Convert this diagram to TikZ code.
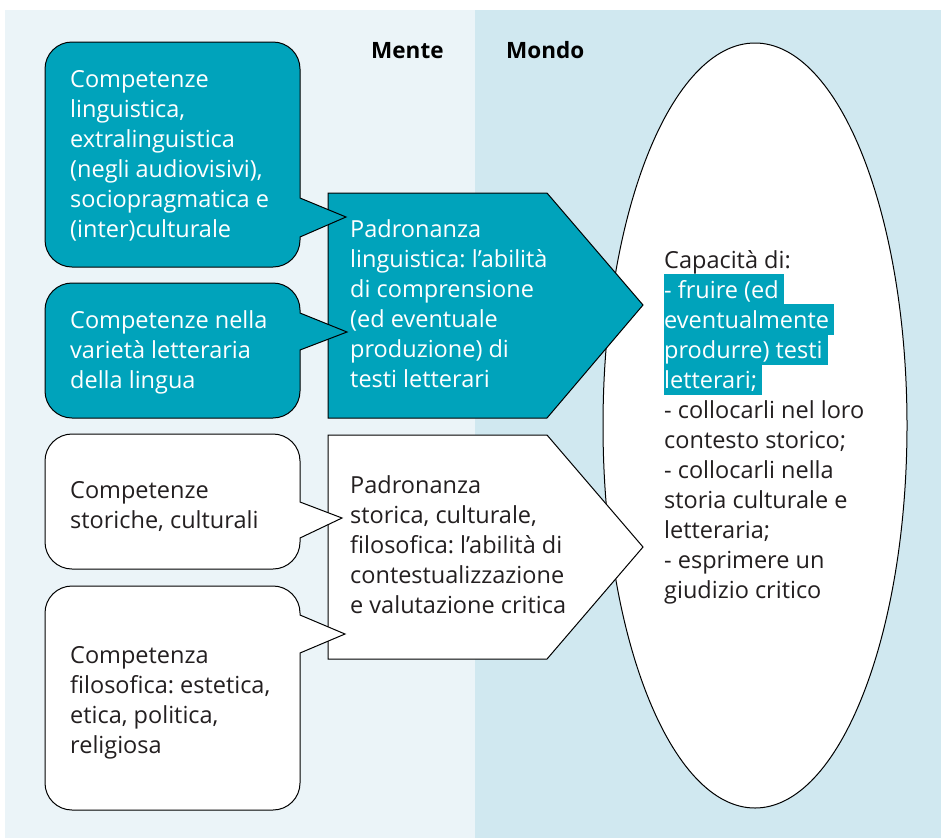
\documentclass[tikz,border=0pt]{standalone}
\usepackage{fontspec}
\setmainfont{Open Sans}[Ligatures=NoCommon]
\frenchspacing
\definecolor{tealc}{HTML}{00A3BB}
\definecolor{leftbg}{HTML}{EBF4F8}
\definecolor{rightbg}{HTML}{D0E8F0}
\definecolor{ink}{HTML}{231F20}
\newcommand{\speechpath}[6]{%
  \draw[#1] (300,#4) -- (300,#2+27) .. controls (300,#2+12.1) and (287.9,#2) .. (273,#2)
    -- (72,#2) .. controls (57.1,#2) and (45,#2+12.1) .. (45,#2+27)
    -- (45,#3-27) .. controls (45,#3-12.1) and (57.1,#3) .. (72,#3)
    -- (273,#3) .. controls (287.9,#3) and (300,#3-12.1) .. (300,#3-27)
    -- (300,#5) -- (#6) -- cycle;}
\newcommand{\hl}[1]{\colorbox{tealc}{\rule[-7pt]{0pt}{31pt}\textcolor{white}{#1}\hspace{5pt}}}
\begin{document}
\begin{tikzpicture}[x=1pt,y=-1pt,
  tealshape/.style={fill=tealc,draw=black,line width=1pt,line join=miter},
  whiteshape/.style={fill=white,draw=black,line width=1pt,line join=miter},
  txt/.style={anchor=base west,inner sep=0pt,font=\fontsize{23.5}{30}\selectfont\frenchspacing},
  head/.style={anchor=base west,inner sep=0pt,font=\fontsize{22.5}{24}\selectfont\bfseries}]
\useasboundingbox (0,0) rectangle (941,838);
\fill[white] (0,0) rectangle (941,838);
\fill[leftbg] (5,10) rectangle (475,838);
\fill[rightbg] (475,10) rectangle (941,838);
\node[head] (mente) at (371,58) {Mente};
\node[head] (mondo) at (506,58) {Mondo};
% ellipse
\draw[fill=white,draw=black,line width=1pt] (755,425.5) ellipse [x radius=152, y radius=382.5];
% pentagons
\draw[tealshape] (328,193) -- (547,193) -- (643,305) -- (547,418) -- (328,418) -- cycle;
\draw[whiteshape] (328,435) -- (547,435) -- (643,547) -- (547,659) -- (328,659) -- cycle;
% callouts
\speechpath{tealshape}{42}{267}{198}{237}{346,217}
\speechpath{tealshape}{283}{418}{313}{350}{347,332}
\speechpath{whiteshape}{434}{569}{502}{538}{342,518}
\speechpath{whiteshape}{586}{810}{615}{653}{345,634}
% texts
\node[txt,text=white] (c1) at (70,87) {\parbox[t]{240pt}{\raggedright Competenze\\linguistica,\\extralinguistica\\(negli audiovisivi),\\sociopragmatica e\\(inter)culturale}};
\node[txt,text=white] (c2) at (70,328) {\parbox[t]{240pt}{\raggedright Competenze nella\\varietà letteraria\\della lingua}};
\node[txt,text=ink] (c3) at (70,498) {\parbox[t]{240pt}{\raggedright Competenze\\storiche, culturali}};
\node[txt,text=ink] (c4) at (70,663) {\parbox[t]{240pt}{\raggedright Competenza\\filosofica: estetica,\\etica, politica,\\religiosa}};
\node[txt,text=white] (p1) at (350,237) {\parbox[t]{260pt}{\raggedright Padronanza\\linguistica: l’abilità\\di comprensione\\(ed eventuale\\produzione) di\\testi letterari}};
\node[txt,text=ink] (p2) at (350,493) {\parbox[t]{260pt}{\raggedright Padronanza\\storica, culturale,\\filosofica: l’abilità di\\contestualizzazione\\e valutazione critica}};
\node[txt,text=ink] (cap) at (664,268) {\parbox[t]{260pt}{\raggedright\lineskiplimit=-100pt\setlength{\fboxsep}{0pt}Capacità di:\\\hl{- fruire (ed}\\\hl{eventualmente}\\\hl{produrre) testi}\\\hl{letterari;}\\- collocarli nel loro\\contesto storico;\\- collocarli nella\\storia culturale e\\letteraria;\\- esprimere un\\giudizio critico}};
\end{tikzpicture}
\end{document}
